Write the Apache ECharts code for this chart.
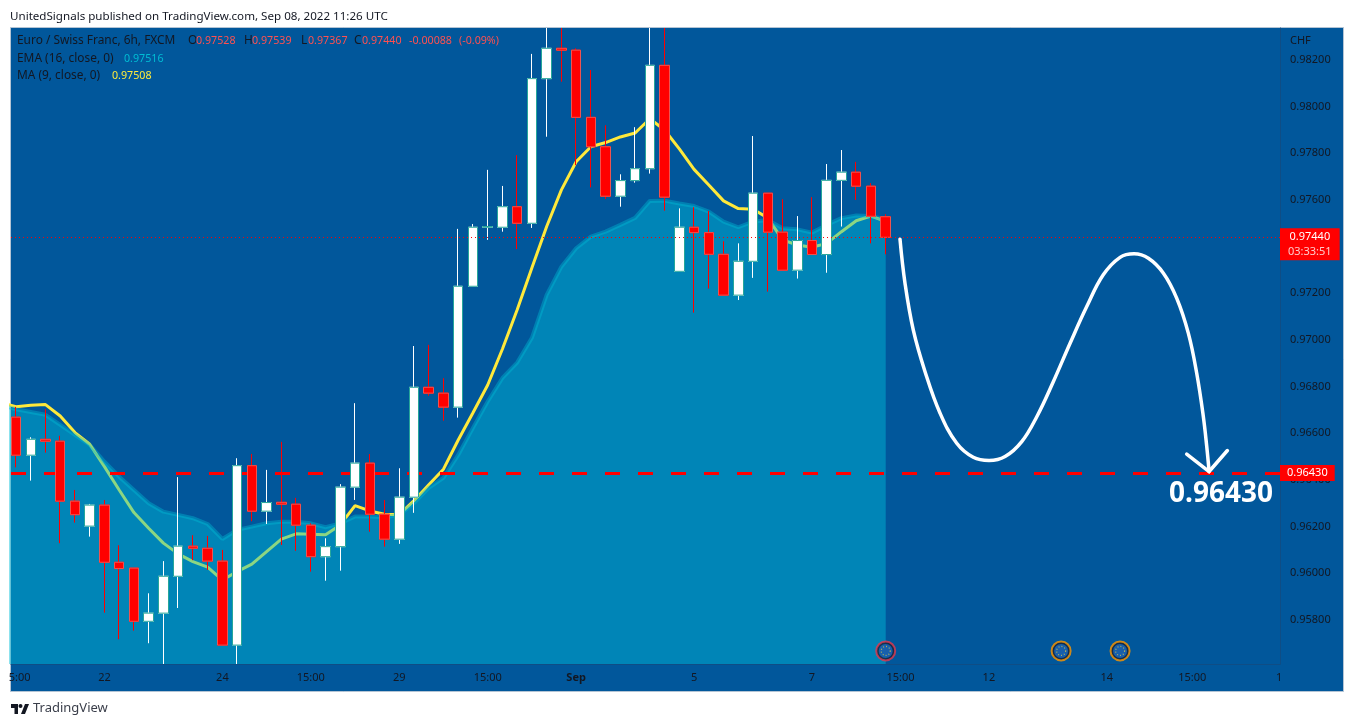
<!DOCTYPE html>
<html>
<head>
<meta charset="utf-8">
<style>html,body{margin:0;padding:0;background:#fff}#c{width:1354px;height:727px}</style>
<script src="https://cdn.jsdelivr.net/npm/echarts@6/dist/echarts.min.js"></script>
</head>
<body>
<div id="c"></div>
<script>
const opens=[.96669,.96506,.96574,.96566,.96309,.96202,.96292,.96047,.96022,.95794,.95829,.95987,.96116,.96107,.96052,.95692,.96461,.96266,.96304,.96296,.96206,.96071,.96114,.96369,.96472,.96253,.96146,.96326,.96797,.96772,.96712,.97230,.97483,.97483,.97571,.97500,.98120,.98250,.98242,.97954,.97828,.97616,.97683,.97734,.98177,.97294,.97483,.97460,.97367,.97192,.97337,.97629,.97462,.97299,.97426,.97366,.97684,.97719,.97659,.97528];
const closes=[.96506,.96574,.96566,.96309,.96251,.96292,.96047,.96020,.95794,.95829,.95987,.96116,.96107,.96052,.95692,.96461,.96266,.96303,.96296,.96206,.96071,.96114,.96369,.96472,.96253,.96146,.96326,.96797,.96772,.96712,.97230,.97483,.97486,.97571,.97500,.98120,.98250,.98242,.97954,.97828,.97616,.97683,.97734,.98177,.97612,.97483,.97460,.97367,.97192,.97337,.97629,.97462,.97299,.97426,.97366,.97684,.97719,.97659,.97530,.97440];
const lows=[.96454,.96397,.96517,.96129,.96217,.96157,.95831,.95717,.95754,.95700,.95611,.95851,.96056,.96014,.95692,.95611,.96223,.96211,.96121,.96096,.96007,.95968,.96011,.96314,.96178,.96114,.96126,.96259,.96761,.96654,.96667,.97230,.97429,.97464,.97389,.97480,.97871,.98107,.97749,.97654,.97604,.97571,.97674,.97713,.97554,.97294,.97117,.97220,.97192,.97171,.97266,.97207,.97299,.97263,.97366,.97288,.97486,.97600,.97414,.97367];
const highs=[.96713,.96583,.96703,.96589,.96357,.96297,.96314,.96120,.96022,.95914,.96052,.96412,.96163,.96160,.96100,.96493,.96511,.96443,.96563,.96323,.96214,.96150,.96382,.96729,.96511,.96314,.96450,.96974,.96979,.96836,.97476,.97497,.97729,.97660,.97792,.98226,.98337,.98337,.98250,.98157,.97920,.97710,.97912,.98337,.98337,.97564,.97569,.97553,.97423,.97414,.97874,.97629,.97603,.97531,.97612,.97754,.97814,.97763,.97672,.97539];
const maValues=[.96730,.96714,.96720,.96723,.96674,.96603,.96553,.96457,.96357,.96260,.96193,.96129,.96083,.96050,.96026,.95971,.96007,.96039,.96093,.96146,.96169,.96167,.96165,.96207,.96290,.96267,.96253,.96251,.96311,.96379,.96446,.96571,.96688,.96807,.96961,.97129,.97309,.97486,.97643,.97764,.97828,.97846,.97870,.97887,.97948,.97900,.97819,.97731,.97664,.97596,.97563,.97560,.97523,.97429,.97407,.97397,.97414,.97464,.97511,.97531,.97508];
const emaValues=[.96721,.96703,.96691,.96679,.96636,.96593,.96550,.96478,.96414,.96357,.96300,.96264,.96250,.96236,.96211,.96147,.96186,.96200,.96214,.96221,.96221,.96214,.96197,.96214,.96243,.96243,.96240,.96250,.96301,.96366,.96409,.96507,.96623,.96736,.96837,.96903,.97009,.97193,.97314,.97393,.97443,.97464,.97493,.97523,.97596,.97597,.97585,.97574,.97550,.97507,.97483,.97507,.97514,.97479,.97474,.97460,.97493,.97522,.97533,.97531,.97516];
const curveX=[59.97,60.31,60.87,61.67,62.69,63.82,64.94,66.01,67.1,68.23,69.25,70.37,71.51,72.64,73.76,74.9,75.85,76.82,77.84,78.74,79.53,80.1,80.55,80.78,80.94];
const curveY=[.97432,.97243,.97043,.96864,.96686,.96557,.96497,.96483,.96500,.96564,.96671,.96821,.96986,.97143,.97279,.97354,.97369,.97350,.97286,.97179,.97029,.96857,.96671,.96543,.96436];
const arrowX=[79.42,80.94,82.18];
const arrowY=[.96511,.96436,.96526];
const targetPrice=.96430, lastPrice=.97440;
const priceTicks=[.958,.960,.962,.964,.966,.968,.970,.972,.974,.976,.978,.980,.982];
const timeTicks=[0.24,6,14,20,26,32,38,46,54,60,66,74,79.8,85.7];
const timeLabels=['5:00','22','24','15:00','29','15:00','Sep','5','7','15:00','12','14','15:00','1'];
const eventX=[59,70.9,74.9], eventY=.95667, eventRings=['#e53950','#ff9800','#ff9800'];
const legendNames=[['Euro / Swiss Franc, 6h, FXCM',17,41],['O',188,41],['H',244,41],['L',301,41],['C',354,41],['EMA (16, close, 0)',17,59],['MA (9, close, 0)',17,76]];
const legendValues=[['0.97528',196,41,'#ff5050'],['0.97539',252,41,'#ff5050'],['0.97367',308,41,'#ff5050'],['0.97440',362,41,'#ff5050'],['-0.00088',409,41,'#ff5050'],['(-0.09%)',459,41,'#ff5050'],['0.97516',124,59,'#00BCD4'],['0.97508',112,76,'#FFEB3B']];

const XMIN=-0.34,XMAX=85.75,YMIN=.95611,YMAX=.98337;
const UI='"Noto Sans",sans-serif', DARK='#131722';
const idx=opens.map((_,i)=>i);
const pair=(v)=>v.map((y,i)=>[i-1,y]);
const ohlc={up:'#ffffff',down:'#ff0000'};
const legendText=(t,x,y,fill,size)=>({type:'text',silent:true,z:20,x,y,style:{text:t,fill,fontSize:size,fontFamily:UI,verticalAlign:'middle',textVerticalAlign:'middle'}});

const chart=echarts.init(document.getElementById('c'),null,{renderer:'canvas',width:1354,height:727});
chart.setOption({
  animation:false,
  backgroundColor:'#ffffff',
  textStyle:{fontFamily:UI},
  grid:{left:11,top:28,width:1269,height:636,containLabel:false},
  xAxis:{type:'value',min:XMIN,max:XMAX,splitLine:{show:false},
    axisLine:{show:true,onZero:false,lineStyle:{color:'#0f4d85',width:1}},axisTick:{show:false},
    axisLabel:{customValues:timeTicks,color:DARK,fontSize:11,margin:8,fontFamily:UI,
      formatter:v=>{const i=timeTicks.indexOf(v);const t=timeLabels[i];return t==='Sep'?'{b|Sep}':t;},
      rich:{b:{fontWeight:'bold',fontSize:11,color:DARK,fontFamily:UI}}}},
  yAxis:{type:'value',position:'right',min:YMIN,max:YMAX,scale:true,splitLine:{show:false},
    axisLine:{show:true,onZero:false,lineStyle:{color:'#0f4d85',width:1}},axisTick:{show:false},
    axisLabel:{customValues:priceTicks,color:DARK,fontSize:11,margin:10,fontFamily:UI,formatter:v=>v.toFixed(5)}},
  series:[
    {name:'MA',type:'line',z:1,symbol:'none',silent:true,data:pair(maValues),lineStyle:{color:'#FFE93B',width:3},clip:true},
    {name:'EMA',type:'line',z:2,symbol:'none',silent:true,data:pair(emaValues),clip:true,
      lineStyle:{color:'rgba(0,188,212,.4)',width:4},
      areaStyle:{color:'rgba(0,190,217,.45)',origin:'start',opacity:1}},
    {name:'Target',type:'line',z:3,symbol:'none',silent:true,data:[],
      markLine:{z:3,silent:true,symbol:'none',animation:false,precision:5,
        lineStyle:{color:'#ff0000',width:3,type:[15,18]},
        data:[{yAxis:targetPrice}],
        label:{show:true,position:'end',distance:0,formatter:targetPrice.toFixed(5),
          color:'#fff',fontSize:11,fontFamily:UI,backgroundColor:'#ff0000',padding:[3,7,2,7]}}},
    {name:'Wicks',type:'candlestick',z:4,barWidth:10,silent:true,clip:true,
      data:idx.map(i=>[i,opens[i],closes[i],lows[i],highs[i]]),
      itemStyle:{color:ohlc.up,color0:ohlc.down,borderColor:'#ffffff',borderColor0:'#ff0000',borderWidth:1}},
    {name:'Bodies',type:'candlestick',z:5,barWidth:10,silent:true,clip:true,
      data:idx.map(i=>[i,opens[i],closes[i],Math.min(opens[i],closes[i]),Math.max(opens[i],closes[i])]),
      itemStyle:{color:ohlc.up,color0:ohlc.down,borderColor:'#26a69a',borderColor0:'#ef5350',borderWidth:1}},
    {name:'Last',type:'line',z:6,symbol:'none',silent:true,data:[],
      markLine:{z:6,silent:true,symbol:'none',animation:false,precision:5,
        lineStyle:{color:'#ff0000',width:1,type:[1,3]},
        data:[{yAxis:lastPrice}],
        label:{show:true,position:'end',distance:0,offset:[0,7],
          formatter:'{p|'+lastPrice.toFixed(5)+'}\n{t|03:33:51}',backgroundColor:'#ff0000',padding:[1,8,1,8],
          rich:{p:{color:'#fff',fontSize:11,fontFamily:UI,lineHeight:15,align:'center'},
                t:{color:'#ffc9c9',fontSize:11,fontFamily:UI,lineHeight:15,align:'center'}}}}},
    {name:'Curve',type:'line',z:7,symbol:'none',silent:true,smooth:.4,
      data:curveX.map((x,i)=>[x,curveY[i]]),lineStyle:{color:'#ffffff',width:3.5,cap:'round'},
      markPoint:{z:7,silent:true,symbol:'none',animation:false,precision:5,
        data:[{coord:[81.75,.96338],symbol:'circle',symbolSize:0,
          label:{show:true,position:'inside',formatter:targetPrice.toFixed(5),color:'#fff',fontWeight:'bold',fontSize:28,fontFamily:UI}}]}},
    {name:'Arrow',type:'line',z:7,symbol:'none',silent:true,
      data:arrowX.map((x,i)=>[x,arrowY[i]]),lineStyle:{color:'#ffffff',width:3.5,cap:'round',join:'miter'}},
    {name:'EventRing',type:'scatter',z:8,silent:true,symbol:'circle',symbolSize:19,
      data:eventX.map((x,i)=>({value:[x,eventY],itemStyle:{color:'#16233a',borderColor:eventRings[i],borderWidth:2}}))},
    {name:'EventFlag',type:'scatter',z:9,silent:true,symbol:'circle',symbolSize:14,
      data:eventX.map(x=>[x,eventY]),itemStyle:{color:'#1a6bc4'}},
    {name:'EventStars',type:'scatter',z:10,silent:true,symbol:'circle',symbolSize:9,
      data:eventX.map(x=>[x,eventY]),itemStyle:{color:'rgba(0,0,0,0)',borderColor:'#d9c94a',borderWidth:1.2,borderType:[1,2]}}
  ],
  graphic:[
    {type:'rect',z:-10,silent:true,shape:{x:10.5,y:27.5,width:1333,height:664},style:{fill:'#01579B',stroke:'#b4c4d4',lineWidth:1}},
    {type:'text',silent:true,x:10,y:11,style:{text:'UnitedSignals published on TradingView.com, Sep 08, 2022 11:26 UTC',fill:DARK,fontSize:11.6,fontFamily:UI}},
    ...legendNames.map(([t,x,y])=>legendText(t,x,y,DARK,11.9)),
    ...legendValues.map(([t,x,y,c])=>legendText(t,x,y,c,10.7)),
    {type:'text',silent:true,z:20,x:1290,y:35,style:{text:'CHF',fill:DARK,fontSize:11,fontFamily:UI}},
    {type:'polygon',silent:true,shape:{points:[[11,704],[18,704],[18,714],[14.5,714],[14.5,708],[11,708]]},style:{fill:DARK}},
    {type:'polygon',silent:true,shape:{points:[[25,704],[29,704],[25,714],[21,714]]},style:{fill:DARK}},
    {type:'circle',silent:true,shape:{cx:20.5,cy:706,r:2},style:{fill:DARK}},
    {type:'text',silent:true,x:33,y:702,style:{text:'TradingView',fill:'#3a3e4a',fontSize:13,fontFamily:UI}}
  ]
});
</script>
</body>
</html>
